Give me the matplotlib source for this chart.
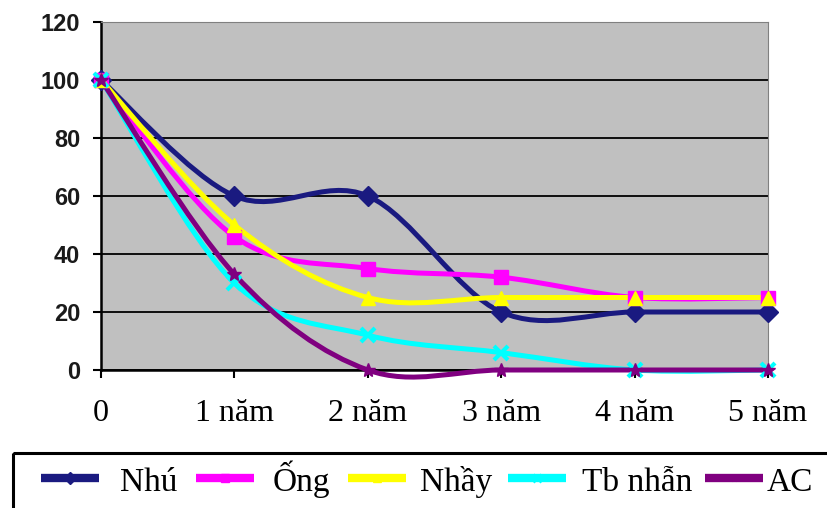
import matplotlib
matplotlib.use('Agg')
import matplotlib.pyplot as plt
from matplotlib.path import Path
from matplotlib.patches import PathPatch, Rectangle

categories = ['0', '1 năm', '2 năm', '3 năm', '4 năm', '5 năm']
series_names = ['Nhú', 'Ống', 'Nhầy', 'Tb nhẫn', 'AC']
nhu = [100, 60, 60, 20, 20, 20]
ong = [100, 46, 35, 32, 25, 25]
nhay = [100, 50, 25, 25, 25, 25]
tb_nhan = [100, 30, 12, 6, 0, 0]
ac = [100, 33, 0, 0, 0, 0]

series = [nhu, ong, nhay, tb_nhan, ac]
colors = ['#1a1a80', '#ff00ff', '#ffff00', '#00ffff', '#800080']
markers = ['D', 's', '^', 'x', '*']


def smooth_path(xs, ys):
    # Catmull-Rom style bezier like the spreadsheet "smoothed line"
    pts = list(zip(xs, ys))
    n = len(pts)
    verts = [pts[0]]
    codes = [Path.MOVETO]
    for i in range(n - 1):
        p0 = pts[i - 1] if i > 0 else pts[i]
        p1 = pts[i]
        p2 = pts[i + 1]
        p3 = pts[i + 2] if i + 2 < n else pts[i + 1]
        c1 = (p1[0] + (p2[0] - p0[0]) / 6, p1[1] + (p2[1] - p0[1]) / 6)
        c2 = (p2[0] - (p3[0] - p1[0]) / 6, p2[1] - (p3[1] - p1[1]) / 6)
        verts += [c1, c2, p2]
        codes += [Path.CURVE4] * 3
    return Path(verts, codes)


fig = plt.figure(figsize=(8.27, 5.08), dpi=100)
ax = fig.add_axes([101 / 827, 1 - 370 / 508, 667 / 827, 348 / 508])
ax.set_facecolor('#c0c0c0')

x = list(range(len(categories)))
for vals, col, mk in zip(series, colors, markers):
    ax.add_patch(PathPatch(smooth_path(x, vals), fill=False, edgecolor=col,
                           lw=3.6, capstyle='round', joinstyle='round',
                           zorder=3, clip_on=False))
    ax.plot(x, vals, linestyle='none', marker=mk, color=col, markersize=10,
            markeredgewidth=3 if mk == 'x' else 1, markeredgecolor=col,
            zorder=4, clip_on=False)

ax.set_xlim(0, 5)
ax.set_ylim(0, 120)
ax.set_yticks(range(0, 121, 20))
ax.set_xticks(x)
ax.set_xticklabels(categories, fontfamily='Liberation Serif', fontsize=23)
for lab in ax.get_yticklabels():
    lab.set_fontfamily('Liberation Sans')
    lab.set_fontweight('bold')
    lab.set_fontsize(17)
    lab.set_color('#1a1a1a')
ax.tick_params(axis='y', length=6, width=1.5, pad=9)
ax.tick_params(axis='x', length=6, width=1.5, pad=15)
ax.yaxis.grid(True, color='black', lw=1.3)
ax.set_axisbelow(True)
ax.spines['left'].set_linewidth(1.8)
ax.spines['bottom'].set_linewidth(1.8)
ax.spines['top'].set_color('#808080')
ax.spines['right'].set_color('#808080')

# legend drawn by hand in pixel coordinates (entries are unevenly spaced)
lg = fig.add_axes([0, 0, 1, 1], zorder=5)
lg.set_xlim(0, 827)
lg.set_ylim(508, 0)
lg.axis('off')
lg.add_patch(Rectangle((13, 453), 830, 70, fill=False, edgecolor='black', lw=2.2))
handle_x = [41, 196, 348, 508, 705]
text_x = [120, 273, 420, 582, 767]
for name, col, mk, hx, tx in zip(series_names, colors, markers, handle_x, text_x):
    lg.plot([hx, hx + 58], [478, 478], color=col, lw=6, solid_capstyle='butt')
    lg.plot([hx + 29], [478], marker=mk, color=col, markersize=6,
            markeredgewidth=2 if mk == 'x' else 1)
    lg.text(tx, 491, name, fontfamily='Liberation Serif', fontsize=24,
            va='baseline', ha='left')

fig.savefig('out.png', dpi=100)
